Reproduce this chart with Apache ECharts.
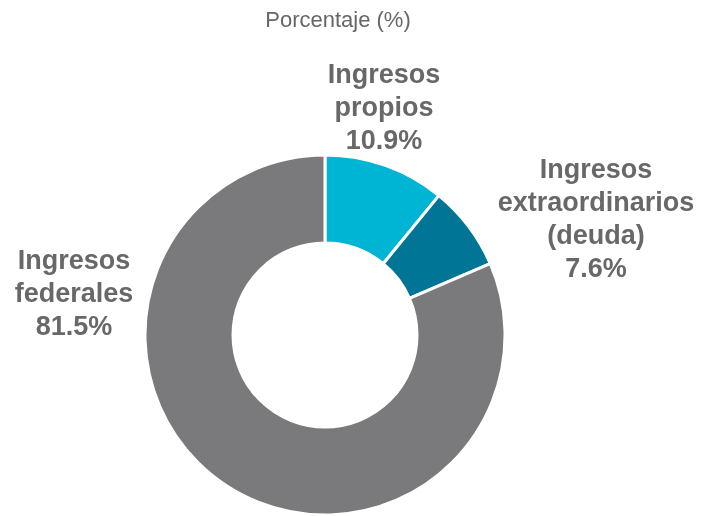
<!DOCTYPE html>
<html>
<head>
<meta charset="utf-8">
<script src="https://cdn.jsdelivr.net/npm/echarts@6/dist/echarts.min.js"></script>
<style>
  html, body { margin: 0; padding: 0; background: #fff; }
  #main { width: 701px; height: 516px; }
</style>
</head>
<body>
<div id="main"></div>
<script>
// datos
var categories = ['Ingresos\npropios', 'Ingresos\nextraordinarios\n(deuda)', 'Ingresos\nfederales'];
var values = [10.9, 7.6, 81.5];
var colors = ['#00b4d4', '#007596', '#7a7a7c'];

// posiciones de las etiquetas (centro del bloque de texto)
var labelPos = [[384, 109], [596, 220], [74, 295]];

var chart = echarts.init(document.getElementById('main'));

var option = {
  animation: false,
  title: {
    text: 'Porcentaje (%)',
    left: 333,
    top: 5,
    textAlign: 'center',
    textStyle: {
      fontFamily: 'Liberation Sans, Arial, sans-serif',
      fontSize: 22,
      fontWeight: 'normal',
      color: '#666666'
    }
  },
  series: [{
    type: 'pie',
    center: [325, 335],
    radius: [92, 180],
    startAngle: 90,
    clockwise: true,
    data: categories.map(function (c, i) {
      return { name: c, value: values[i], itemStyle: { color: colors[i] } };
    }),
    itemStyle: {
      borderColor: '#ffffff',
      borderWidth: 3
    },
    label: {
      show: true,
      position: 'outside',
      formatter: function (p) {
        return p.name + '\n' + p.value.toFixed(1) + '%';
      },
      fontFamily: 'Liberation Sans, Arial, sans-serif',
      fontSize: 27,
      fontWeight: 'bold',
      lineHeight: 33,
      color: '#686868',
      align: 'center',
      overflow: 'none',
      width: 260
    },
    labelLine: { show: false },
    labelLayout: function (params) {
      var pos = labelPos[params.dataIndex];
      return {
        x: pos[0],
        y: pos[1],
        align: 'center',
        verticalAlign: 'middle'
      };
    },
    emphasis: { disabled: true }
  }]
};

chart.setOption(option);
</script>
</body>
</html>
